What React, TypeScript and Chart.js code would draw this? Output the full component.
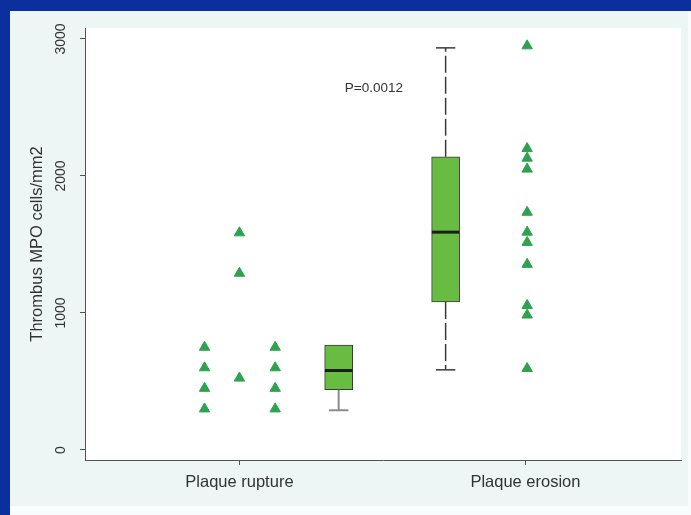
import React, { useEffect, useRef } from "react";
import { Chart, registerables } from "chart.js";

Chart.register(...registerables);

// ---------- data ----------
const categories = ["Plaque rupture", "Plaque erosion"];
const yTickValues = [0, 1000, 2000, 3000];
const yAxisTitle = "Thrombus MPO cells/mm2";
const pValueLabel = "P=0.0012";

// individual observations (strip columns)
const ruptureLeft = [750, 600, 450, 300];
const ruptureMiddle = [1585, 1290, 525];
const ruptureRight = [750, 600, 450, 300];
const erosionPoints = [2950, 2200, 2130, 2050, 1735, 1590, 1515, 1355, 1055, 985, 595];

// box summaries: [min, q1, median, q3, max]
const ruptureBox = [290, 440, 580, 765, 765];
const erosionBox = [585, 1080, 1590, 2140, 2935];

// ---------- layout (x offsets from category centre, in category units) ----------
const ruptureColumnOffsets = [-0.122, 0, 0.125];
const erosionColumnOffset = 0.006;
const boxOffsets = [0.347, -0.279];
const capHalf = 0.034;
const medianHalf = 0.048;
const pLabelPos = { x: 1.47, y: 2640 };

const BLUE = "#0b2f9c";
const PANEL = "#edf5f5";
const GREEN = "#2ea24f";
const BOX_FILL = "#68bc42";
const TEXT = "#333333";
const AXIS = "#555555";
const FONT = "'Liberation Sans', Arial, Helvetica, sans-serif";

export default function App() {
  const ref = useRef<HTMLCanvasElement | null>(null);

  useEffect(() => {
    const canvas = ref.current;
    if (!canvas) return;
    const pos = (ci: number, off: number) => ci + 1 + off;

    const pointSet = (ci: number, off: number, vals: number[]) => ({
      type: "scatter" as const,
      data: vals.map((v) => ({ x: pos(ci, off), y: v })),
      pointStyle: "triangle",
      pointRadius: 6,
      pointHoverRadius: 6,
      backgroundColor: GREEN,
      borderColor: GREEN,
      borderWidth: 1,
      order: 0,
    });

    const boxes = [ruptureBox, erosionBox];
    const whiskerStyles = [
      { color: "#8c8c8c", width: 2, dash: [] as number[] },
      { color: "#3a3a3a", width: 1.5, dash: [17, 4] },
    ];

    const datasets: any[] = [
      pointSet(0, ruptureColumnOffsets[0], ruptureLeft),
      pointSet(0, ruptureColumnOffsets[1], ruptureMiddle),
      pointSet(0, ruptureColumnOffsets[2], ruptureRight),
      pointSet(1, erosionColumnOffset, erosionPoints),
    ];

    boxes.forEach((b, i) => {
      const cx = pos(i, boxOffsets[i]);
      const st = whiskerStyles[i];
      datasets.push({
        type: "bar",
        data: [{ x: cx, y: [b[1], b[3]] }],
        backgroundColor: BOX_FILL,
        borderColor: "#3a3a3a",
        borderWidth: 1,
        borderSkipped: false,
        barThickness: 28,
        grouped: false,
        order: 3,
      });
      const lineBase = {
        type: "line",
        pointRadius: 0,
        pointHoverRadius: 0,
        fill: false,
        tension: 0,
        order: 2,
      };
      if (b[0] < b[1]) {
        datasets.push({
          ...lineBase,
          data: [
            { x: cx, y: b[1] },
            { x: cx, y: b[0] },
          ],
          borderColor: st.color,
          borderWidth: st.width,
          borderDash: st.dash,
        });
        datasets.push({
          ...lineBase,
          data: [
            { x: cx - capHalf, y: b[0] },
            { x: cx + capHalf, y: b[0] },
          ],
          borderColor: st.color,
          borderWidth: st.width,
        });
      }
      if (b[4] > b[3]) {
        datasets.push({
          ...lineBase,
          data: [
            { x: cx, y: b[3] },
            { x: cx, y: b[4] },
          ],
          borderColor: st.color,
          borderWidth: st.width,
          borderDash: st.dash,
        });
        datasets.push({
          ...lineBase,
          data: [
            { x: cx - capHalf, y: b[4] },
            { x: cx + capHalf, y: b[4] },
          ],
          borderColor: st.color,
          borderWidth: st.width,
        });
      }
      datasets.push({
        ...lineBase,
        order: 1,
        data: [
          { x: cx - medianHalf, y: b[2] },
          { x: cx + medianHalf, y: b[2] },
        ],
        borderColor: "#1c1c1c",
        borderWidth: 3,
      });
    });

    const whiteArea = {
      id: "whiteArea",
      beforeDraw(chart: any) {
        const { ctx, chartArea } = chart;
        ctx.save();
        ctx.fillStyle = "#ffffff";
        ctx.fillRect(chartArea.left, chartArea.top, chartArea.right - chartArea.left, chartArea.bottom - chartArea.top);
        ctx.restore();
      },
    };

    const textLabels = {
      id: "textLabels",
      afterDraw(chart: any) {
        const { ctx } = chart;
        const ys = chart.scales.y;
        const xs = chart.scales.x;
        ctx.save();
        ctx.fillStyle = TEXT;
        ctx.font = `14px ${FONT}`;
        ctx.textAlign = "center";
        ctx.textBaseline = "middle";
        yTickValues.forEach((v) => {
          const py = ys.getPixelForValue(v);
          ctx.save();
          ctx.translate(ys.right - 24, py);
          ctx.rotate(-Math.PI / 2);
          ctx.fillText(String(v), 0, 0);
          ctx.restore();
        });
        ctx.font = `13.5px ${FONT}`;
        ctx.fillText(pValueLabel, xs.getPixelForValue(pLabelPos.x), ys.getPixelForValue(pLabelPos.y));
        ctx.restore();
      },
    };

    const chart = new Chart(canvas, {
      type: "scatter",
      data: { datasets },
      options: {
        animation: false,
        responsive: false,
        events: [],
        layout: { padding: { top: 17, right: 5, left: 0, bottom: 0 } },
        plugins: { legend: { display: false }, tooltip: { enabled: false } },
        scales: {
          x: {
            type: "linear",
            min: 0.46,
            max: 2.544,
            offset: false,
            afterBuildTicks: (s: any) => {
              s.ticks = categories.map((_, i) => ({ value: i + 1 }));
            },
            afterFit: (s: any) => {
              s.height = 46;
            },
            grid: { drawOnChartArea: false, drawTicks: true, tickLength: 5, color: AXIS, offset: false },
            border: { color: AXIS, width: 1 },
            ticks: {
              autoSkip: false,
              maxRotation: 0,
              minRotation: 0,
              padding: 8,
              color: TEXT,
              font: { family: FONT, size: 16.5 },
              callback: (v: any) => categories[Math.round(Number(v)) - 1] ?? "",
            },
          },
          y: {
            type: "linear",
            min: -73,
            max: 3080,
            afterBuildTicks: (s: any) => {
              s.ticks = yTickValues.map((v) => ({ value: v }));
            },
            afterFit: (s: any) => {
              s.width = 75;
            },
            grid: { drawOnChartArea: false, drawTicks: true, tickLength: 5, color: AXIS, offset: false },
            border: { color: AXIS, width: 1 },
            ticks: { display: false },
            title: {
              display: true,
              text: yAxisTitle,
              color: TEXT,
              font: { family: FONT, size: 16.5 },
              padding: { top: 18, bottom: 0 },
            },
          },
        },
      },
      plugins: [whiteArea, textLabels],
    } as any);

    return () => chart.destroy();
  }, []);

  return (
    <div style={{ position: "fixed", left: 0, top: 0, width: 691, height: 515, background: "#f9fcfc", overflow: "hidden" }}>
      <div style={{ position: "absolute", left: 0, top: 0, width: 691, height: 11, background: BLUE }} />
      <div style={{ position: "absolute", left: 0, top: 0, width: 10, height: 515, background: BLUE }} />
      <div style={{ position: "absolute", left: 10, top: 11, width: 678, height: 495, background: PANEL }}>
        <canvas ref={ref} width={678} height={495} style={{ display: "block" }} />
      </div>
    </div>
  );
}
